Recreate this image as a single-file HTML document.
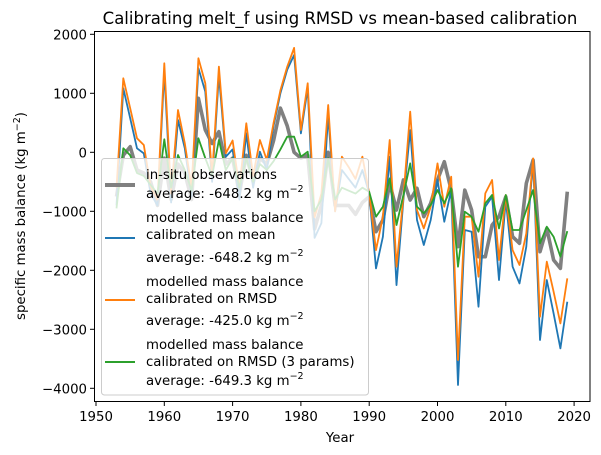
<!DOCTYPE html>
<html><head><meta charset="utf-8"><style>
html,body{margin:0;padding:0;background:#fff;}
svg{display:block;font-family:"DejaVu Sans","Liberation Sans",sans-serif;}
</style></head><body>
<svg id="s" width="601" height="455" xmlns="http://www.w3.org/2000/svg">
<rect width="601" height="455" fill="#fff"/>
<text x="340" y="24" font-size="16.5" text-anchor="middle">Calibrating melt_f using RMSD vs mean-based calibration</text>
<g id="plot"></g>
<rect x="94.5" y="31.5" width="495.5" height="370" fill="none" stroke="#000" stroke-width="1"/>
<g id="ticks" font-size="13.3"></g>
<text x="340" y="442" font-size="13.3" text-anchor="middle">Year</text>
<text transform="translate(25,216) rotate(-90)" font-size="13.3" text-anchor="middle">specific mass balance (kg m<tspan dy="-5" font-size="9.5">−2</tspan><tspan dy="5">)</tspan></text>
<g font-size="13.3">
<rect x="101.5" y="158.5" width="267" height="236.5" rx="3" fill="#fff" fill-opacity="0.8" stroke="#ccc"/>
<line x1="105" y1="185" x2="135" y2="185" stroke="#808080" stroke-width="4"/>
<text x="146" y="179">in-situ observations</text>
<text x="146" y="198">average: -648.2 kg m<tspan dy="-6" font-size="9.5">−2</tspan></text>
<line x1="105" y1="238" x2="135" y2="238" stroke="#1f77b4" stroke-width="2"/>
<text x="146" y="222">modelled mass balance</text>
<text x="146" y="239">calibrated on mean</text>
<text x="146" y="262">average: -648.2 kg m<tspan dy="-6" font-size="9.5">−2</tspan></text>
<line x1="105" y1="300" x2="135" y2="300" stroke="#ff7f0e" stroke-width="2"/>
<text x="146" y="286">modelled mass balance</text>
<text x="146" y="303">calibrated on RMSD</text>
<text x="146" y="325">average: -425.0 kg m<tspan dy="-6" font-size="9.5">−2</tspan></text>
<line x1="105" y1="362" x2="135" y2="362" stroke="#2ca02c" stroke-width="2"/>
<text x="146" y="349">modelled mass balance</text>
<text x="146" y="366">calibrated on RMSD (3 params)</text>
<text x="146" y="385">average: -649.3 kg m<tspan dy="-6" font-size="9.5">−2</tspan></text>
</g>
</svg>
<script>
var X=function(y){return 96+(y-1950)*6.83;};
var Y=function(v){return 152.3-v*0.059;};
var gray=[-750,-50,95,-300,-350,-500,-900,-100,-800,-200,-350,-800,915,378,150,350,-200,-100,-700,-50,-500,-100,-200,200,750,450,0,-100,-50,-1300,-900,0,-900,-900,-900,-1050,-850,
-752,-1345,-1148,-527,-978,-470,-809,-611,-1092,-865,-470,-159,-640,-1600,-640,-978,-1770,-1770,-1233,-1092,-752,-1430,-1543,-527,-131,-1685,-1289,-1826,-1967,-668];
var blue=[-900,1084,576,67,-18,-700,-900,1367,-850,548,67,-750,1423,1028,-500,1310,-74,50,-800,322,-600,11,-300,450,1000,1400,1650,320,1084,-1450,-1200,632,-1000,-300,-450,-600,-300,
-696,-1967,-1430,-75,-2250,-809,377,-1148,-1572,-1148,-470,-1176,-640,-3944,-1317,-1345,-2617,-922,-752,-2165,-809,-1939,-2222,-1600,-131,-3182,-2165,-2730,-3323,-2532];
var orange=[-600,1254,745,237,124,-580,-800,1508,-700,717,152,-600,1593,1169,-400,1452,-17,200,-600,491,-400,209,-130,500,1050,1450,1770,378,1169,-1100,-700,802,-1000,-74,-250,-450,-74,
-696,-1657,-1092,208,-1939,-752,688,-978,-1289,-922,-188,-922,-414,-3521,-1092,-1092,-2108,-696,-470,-1826,-724,-1657,-1911,-1374,-103,-2787,-1854,-2363,-2900,-2137];
var green=[-950,67,-50,-350,-400,-550,-700,220,-600,-46,-300,-650,237,-100,-400,209,-300,-100,-600,-100,-500,-200,-300,-150,50,265,265,-74,11,-1000,-800,-100,-800,-600,-650,-700,-600,
-668,-1092,-922,-442,-1233,-724,-188,-922,-1035,-894,-640,-865,-611,-1939,-1007,-1092,-1345,-865,-724,-1289,-724,-1317,-1317,-978,-640,-1543,-1261,-1430,-1770,-1335];
var ns="http://www.w3.org/2000/svg",p=document.getElementById("plot");
function line(d,c,w){var s="";for(var i=0;i<d.length;i++){s+=(i?"L":"M")+X(1953+i).toFixed(1)+","+Y(d[i]).toFixed(1);}
var e=document.createElementNS(ns,"path");e.setAttribute("d",s);e.setAttribute("fill","none");e.setAttribute("stroke",c);e.setAttribute("stroke-width",w);e.setAttribute("stroke-linejoin","round");p.appendChild(e);}
line(gray,"#808080",3.6);line(blue,"#1f77b4",1.8);line(orange,"#ff7f0e",1.8);line(green,"#2ca02c",1.8);
var t=document.getElementById("ticks"),h="";
for(var yr=1950;yr<=2020;yr+=10){var x=X(yr);h+='<line x1="'+x+'" y1="402" x2="'+x+'" y2="406" stroke="#000"/><text x="'+x+'" y="421" text-anchor="middle">'+yr+'</text>';}
for(var v=-4000;v<=2000;v+=1000){var y=Y(v);h+='<line x1="90" y1="'+y+'" x2="94.5" y2="'+y+'" stroke="#000"/><text x="87" y="'+(y+5)+'" text-anchor="end">'+(v<0?"−"+(-v):v)+'</text>';}
t.innerHTML=h;
</script>
</body></html>
